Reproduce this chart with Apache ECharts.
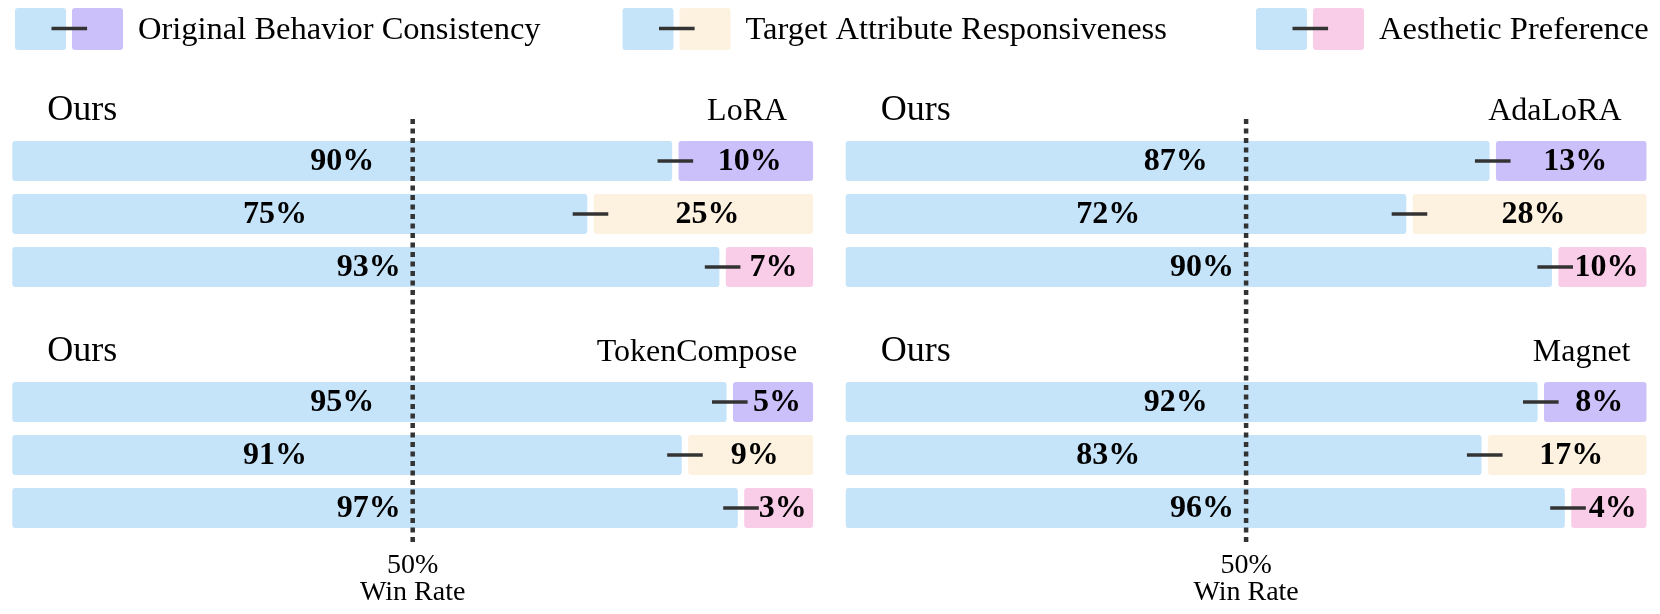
<!DOCTYPE html>
<html>
<head>
<meta charset="utf-8">
<script src="https://cdn.jsdelivr.net/npm/echarts@6/dist/echarts.min.js"></script>
<style>
html,body{margin:0;padding:0;background:#fff;}
#chart{width:1660px;height:614px;}
</style>
</head>
<body>
<div id="chart"></div>
<script>
// ---------------- data ----------------
const aspects = ['Original Behavior Consistency', 'Target Attribute Responsiveness', 'Aesthetic Preference'];
const baselines = ['LoRA', 'AdaLoRA', 'TokenCompose', 'Magnet'];

// printed win-rate labels of Ours (%)
const loraOursLabel = [90, 75, 93];
const adaloraOursLabel = [87, 72, 90];
const tokenComposeOursLabel = [95, 91, 97];
const magnetOursLabel = [92, 83, 96];

// printed labels of the baseline (%)
const loraBaseLabel = [10, 25, 7];
const adaloraBaseLabel = [13, 28, 10];
const tokenComposeBaseLabel = [5, 9, 3];
const magnetBaseLabel = [8, 17, 4];

// split point of each bar as drawn (% of the bar length)
const loraSplit = [82.8, 72.2, 88.7];
const adaloraSplit = [80.8, 70.4, 88.6];
const tokenComposeSplit = [89.6, 84.0, 91.0];
const magnetSplit = [86.8, 79.8, 90.2];

const winRateRef = 50;
const axisMax = 100;
const refLabel = ['50%', 'Win Rate'];
const oursName = 'Ours';

// ---------------- style / layout ----------------
const serif = '"Liberation Serif", "Times New Roman", Times, serif';
const oursColor = '#C5E4FA';
const aspectColors = ['#CBC0FA', '#FDF1E0', '#F9CCE8'];
const inkColor = '#333333';
const colLeft = [12.3, 845.7];
const colWidth = 800.8;
const rowTop = [134.5, 375.5];
const bandH = 53;
const barH = 40;
const gapHalf = 3.2;
const errHalf = 17.8;
const oursLabelAt = [41.2, 32.8, 44.5];   // label anchor, in axis units, by row
const titleRightInset = [26, 25, 16, 16];
const boldFont = 'bold 32px ' + serif;

const panelOurs = [loraOursLabel, adaloraOursLabel, tokenComposeOursLabel, magnetOursLabel];
const panelBase = [loraBaseLabel, adaloraBaseLabel, tokenComposeBaseLabel, magnetBaseLabel];
const panelSplit = [loraSplit, adaloraSplit, tokenComposeSplit, magnetSplit];

const chart = echarts.init(document.getElementById('chart'), null, {renderer: 'canvas'});

const grids = [], xAxes = [], yAxes = [], series = [], graphics = [];

function renderRow(params, api) {
  const row = api.value(0);
  const split = api.value(1);
  const oursLab = api.value(2);
  const baseLab = api.value(3);
  const p0 = api.coord([0, row]);
  const pS = api.coord([split, row]);
  const p1 = api.coord([axisMax, row]);
  const yc = p0[1];
  const xl = api.coord([oursLabelAt[row], row])[0];
  const otherStart = pS[0] + gapHalf;
  return {
    type: 'group',
    children: [
      {type: 'rect', shape: {x: p0[0], y: yc - barH / 2, width: pS[0] - gapHalf - p0[0], height: barH, r: 3},
        style: {fill: oursColor}},
      {type: 'rect', shape: {x: otherStart, y: yc - barH / 2, width: p1[0] - otherStart, height: barH, r: 3},
        style: {fill: aspectColors[row]}},
      {type: 'line', shape: {x1: pS[0] - errHalf, y1: yc, x2: pS[0] + errHalf, y2: yc},
        style: {stroke: inkColor, lineWidth: 3.3}},
      {type: 'text', style: {text: oursLab + '%', x: xl, y: yc + 1, align: 'center', verticalAlign: 'middle',
        font: boldFont, fill: '#000'}},
      {type: 'text', style: {text: baseLab + '%', x: (otherStart + p1[0]) / 2 + 4, y: yc + 1, align: 'center',
        verticalAlign: 'middle', font: boldFont, fill: '#000'}}
    ]
  };
}

baselines.forEach((name, i) => {
  const col = i % 2, rowBlock = Math.floor(i / 2);
  grids.push({left: colLeft[col], top: rowTop[rowBlock], width: colWidth, height: bandH * 3, containLabel: false});
  xAxes.push({type: 'value', gridIndex: i, min: 0, max: axisMax, show: false});
  yAxes.push({type: 'category', gridIndex: i, data: aspects, inverse: true, show: false});
  series.push({
    type: 'custom',
    name: name,
    xAxisIndex: i,
    yAxisIndex: i,
    z: 2,
    silent: true,
    encode: {x: 1, y: 0},
    renderItem: renderRow,
    data: aspects.map((a, r) => [r, panelSplit[i][r], panelOurs[i][r], panelBase[i][r]])
  });
  // panel headers
  graphics.push({type: 'text', left: colLeft[col] + 35, top: rowTop[rowBlock] - 41.5,
    style: {text: oursName, font: '36px ' + serif, fill: '#000'}});
  graphics.push({type: 'text', right: 1660 - (colLeft[col] + colWidth - titleRightInset[i]), top: rowTop[rowBlock] - 39,
    style: {text: name, font: '32px ' + serif, fill: '#000'}});
});

// reference (50%) guide per column
[0, 1].forEach(col => {
  const gi = 4 + col;
  grids.push({left: colLeft[col], top: 119, width: colWidth, height: 426});
  xAxes.push({type: 'value', gridIndex: gi, min: 0, max: axisMax, interval: winRateRef,
    axisLine: {show: false}, axisTick: {show: false}, splitLine: {show: false},
    axisLabel: {show: true, margin: 7, color: '#000', fontFamily: serif, fontSize: 28, lineHeight: 27,
      formatter: v => (v === winRateRef ? refLabel.join('\n') : '')}});
  yAxes.push({type: 'value', gridIndex: gi, min: 0, max: 1, show: false});
  series.push({
    type: 'custom',
    xAxisIndex: gi,
    yAxisIndex: gi,
    z: 5,
    silent: true,
    renderItem: (params, api) => {
      const v = api.value(0);
      const a = api.coord([v, 1]);
      const b = api.coord([v, 0]);
      return {type: 'line', shape: {x1: a[0], y1: a[1], x2: b[0], y2: b[1]},
        style: {stroke: inkColor, lineWidth: 4.5, lineDash: [5, 4.5]}};
    },
    data: [[winRateRef]]
  });
});

// legend (drawn)
const legendLeft = [15, 622.5, 1256];
aspects.forEach((a, k) => {
  const L = legendLeft[k];
  graphics.push({type: 'rect', shape: {x: L, y: 8, width: 51, height: 42, r: 3}, style: {fill: oursColor}});
  graphics.push({type: 'rect', shape: {x: L + 57, y: 8, width: 51, height: 42, r: 3}, style: {fill: aspectColors[k]}});
  graphics.push({type: 'line', shape: {x1: L + 54.3 - errHalf, y1: 28.5, x2: L + 54.3 + errHalf, y2: 28.5},
    style: {stroke: inkColor, lineWidth: 3.3}});
  graphics.push({type: 'text', x: L + 123, y: 30.5,
    style: {text: a, font: '32.5px ' + serif, fill: '#000', align: 'left', verticalAlign: 'middle'}});
});

chart.setOption({
  animation: false,
  backgroundColor: '#fff',
  grid: grids,
  xAxis: xAxes,
  yAxis: yAxes,
  series: series,
  graphic: graphics
});
</script>
</body>
</html>
